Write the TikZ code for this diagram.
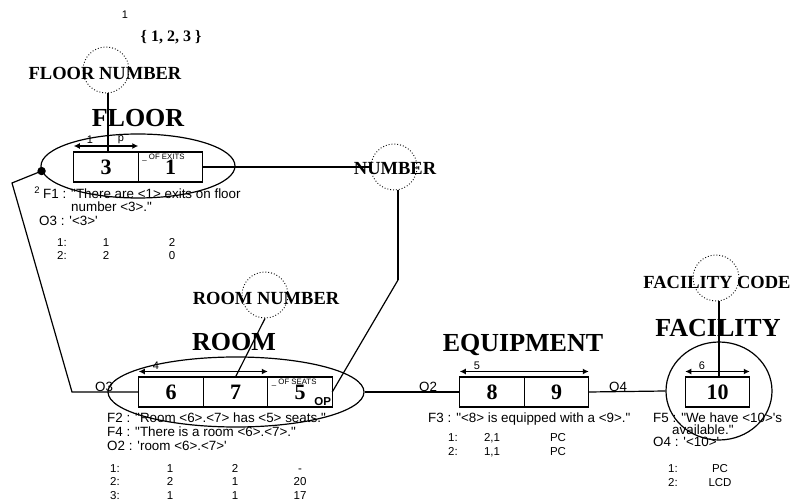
\documentclass[tikz,border=0pt]{standalone}
\usepackage{fontspec}
\setmainfont{Liberation Serif}
\setsansfont{Liberation Sans}[Ligatures=TeXOff]
\usepackage{tikz}
\usetikzlibrary{arrows.meta,shapes.geometric,positioning}

\tikzset{
	cell/.style={draw, line width=1.2pt, minimum width=64.5pt, minimum height=30pt, inner sep=0pt, outer sep=0pt, font=\fontsize{22}{22}\selectfont\bfseries},
	role/.style={draw, dotted, line width=0.9pt, circle, minimum size=46pt, inner sep=0pt},
	rolename/.style={font=\fontsize{18.5}{18.5}\selectfont\bfseries, inner sep=0pt},
	typename/.style={font=\fontsize{26}{26}\selectfont\bfseries, inner sep=0pt},
	fact/.style={font=\sffamily\fontsize{13.4}{14}\selectfont, inner sep=0pt, anchor=base west},
	tbl/.style={font=\sffamily\fontsize{11.5}{12}\selectfont, inner sep=0pt, anchor=base},
	tiny/.style={font=\sffamily\fontsize{7.8}{8}\selectfont, inner sep=0pt},
	small/.style={font=\sffamily\fontsize{11}{11}\selectfont, inner sep=0pt},
	span/.style={line width=1.2pt, {Latex[length=6pt,width=6pt]}-{Latex[length=6pt,width=6pt]}},
	link/.style={line width=1.2pt},
	outline/.style={draw, line width=1.2pt, ellipse, inner sep=0pt}
}

\begin{document}
\begin{tikzpicture}[x=1pt,y=-1pt]
	\useasboundingbox (0,0) rectangle (798,502);
	% value constraint
	\node[small] (vnum) at (125,15) {1};
	\node[font=\fontsize{16}{16}\selectfont\bfseries, inner sep=0pt] (vals) at (171,37) {\{ 1, 2, 3 \}};
	% floor
	\node[role] (fnc) at (106,70) {};
	\node[rolename] (fname) at (105,73) {FLOOR NUMBER};
	\node[typename] (floor) at (138,118) {FLOOR};
	\node[outline, minimum width=194pt, minimum height=64pt] (floorell) at (138,166) {};
	\node[cell] (b3) at (106,167) {3};
	\node[cell, anchor=west] (b1) at (b3.east) {1};
	\node[tiny, anchor=north west] (exits) at ([xshift=4pt,yshift=-2pt]b1.north west) {\_ OF EXITS};
	\draw[span] ([yshift=6pt]b3.north west) -- ([yshift=6pt]b3.north east);
	\node[small] (fl1) at (90,140) {1};
	\node[small] (flp) at (121,140) {p};
	\draw[link] (fnc.south -| 108,0) -- (b3.north -| 108,0);
	% number
	\node[role] (numc) at (394,167) {};
	\node[rolename] (nname) at (395,169) {NUMBER};
	\draw[link] (b1.east) -- (numc.west);
	\coordinate (nbend) at (398,280);
	\draw[link] (nbend |- numc.south) -- (nbend);
	% floor facts
	\node[tiny, font=\sffamily\fontsize{9.5}{9.5}\selectfont] (f1n) at (37,190) {2};
	\node[fact] (f1) at (43,198.5) {F1 : "There are <1> exits on floor};
	\node[fact] (f1b) at (71,211.5) {number <3>."};
	\node[fact] (o3) at (39,225.5) {O3 : '<3>'};
	\foreach \r/\a/\b [count=\i] in {1:/1/2, 2:/2/0}
	{
		\node[tbl] (ftr\i) at (62,234+13*\i) {\r};
		\node[tbl] (fta\i) at (106,234+13*\i) {\a};
		\node[tbl] (ftb\i) at (172,234+13*\i) {\b};
	}
	% room
	\node[role] (rnc) at (265,295) {};
	\node[rolename] (rname) at (266,298) {ROOM NUMBER};
	\node[typename] (room) at (234,342) {ROOM};
	\node[outline, minimum width=256pt, minimum height=70pt] (roomell) at (236,392) {};
	\node[cell] (b6) at (171,392) {6};
	\node[cell, anchor=west] (b7) at (b6.east) {7};
	\node[cell, anchor=west] (b5) at (b7.east) {5};
	\node[tiny, anchor=north west] (seats) at ([xshift=4pt,yshift=-2pt]b5.north west) {\_ OF SEATS};
	\node[font=\sffamily\fontsize{11.5}{11.5}\selectfont\bfseries, inner sep=0pt, anchor=south east] (op) at ([xshift=-1pt,yshift=1pt]b5.south east) {OP};
	\draw[span] ([yshift=5.5pt]b6.north west) -- ([yshift=5.5pt]b7.north east);
	\node[small] (r4) at (156,366) {4};
	\draw[link] (rnc.south) -- (b7.north);
	\draw[link] (nbend) -- (b5.east);
	% floor to room
	\coordinate (fdot) at (floorell.183);
	\coordinate (lk1) at (12,183);
	\coordinate (lk2) at (72,392);
	\fill (fdot) circle (4.2pt);
	\draw[link] (fdot) -- (lk1) -- (lk2) -- (b6.west);
	\node[fact] (o3l) at (95,391.5) {O3};
	% room facts
	\node[fact] (f2) at (107,422.5) {F2 : "Room <6>.<7> has <5> seats."};
	\node[fact] (f4) at (107,436.5) {F4 : "There is a room <6>.<7>."};
	\node[fact] (o2) at (107,450.5) {O2 : 'room <6>.<7>'};
	\foreach \r/\a/\b/\c [count=\i] in {1:/1/2/-, 2:/2/1/20, 3:/1/1/17}
	{
		\node[tbl] (rtr\i) at (115,458.5+13.5*\i) {\r};
		\node[tbl] (rta\i) at (170,458.5+13.5*\i) {\a};
		\node[tbl] (rtb\i) at (235,458.5+13.5*\i) {\b};
		\node[tbl] (rtc\i) at (300,458.5+13.5*\i) {\c};
	}
	% equipment
	\node[typename] (equip) at (523,345) {EQUIPMENT};
	\node[cell] (b8) at (492,392) {8};
	\node[cell, anchor=west] (b9) at (b8.east) {9};
	\draw[span] ([yshift=5.5pt]b8.north west) -- ([yshift=5.5pt]b9.north east);
	\node[small] (e5) at (477,366) {5};
	\draw[link] (roomell.east) -- (b8.west);
	\node[fact] (o2l) at (419,391.5) {O2};
	\node[fact] (f3) at (428,422.5) {F3 : "<8> is equipped with a <9>."};
	\foreach \r/\a/\b [count=\i] in {1:/2{,}1/PC, 2:/1{,}1/PC}
	{
		\node[tbl] (etr\i) at (453,428+14*\i) {\r};
		\node[tbl] (eta\i) at (492,428+14*\i) {\a};
		\node[tbl] (etb\i) at (558,428+14*\i) {\b};
	}
	% facility
	\node[role] (fcc) at (716,278) {};
	\node[rolename] (fcname) at (717,282) {FACILITY CODE};
	\node[typename] (facility) at (718,328) {FACILITY};
	\node[outline, minimum width=106pt, minimum height=98pt] (facell) at (719,391) {};
	\node[cell] (b10) at (717.5,392) {10};
	\draw[span] ([yshift=5.5pt]b10.north west) -- ([yshift=5.5pt]b10.north east);
	\node[small] (c6) at (702,366) {6};
	\draw[link] (fcc.south -| 719,0) -- (b10.north -| 719,0);
	\draw[link] (b9.east) -- (facell.west);
	\node[fact] (o4l) at (609,391.5) {O4};
	\node[fact] (f5) at (653,422.5) {F5 : "We have <10>'s};
	\node[fact] (f5b) at (672,434.5) {available."};
	\node[fact] (o4) at (653,446.5) {O4 : '<10>'};
	\foreach \r/\a [count=\i] in {1:/PC, 2:/LCD}
	{
		\node[tbl] (ctr\i) at (673,458+14*\i) {\r};
		\node[tbl] (cta\i) at (720,458+14*\i) {\a};
	}
\end{tikzpicture}
\end{document}
